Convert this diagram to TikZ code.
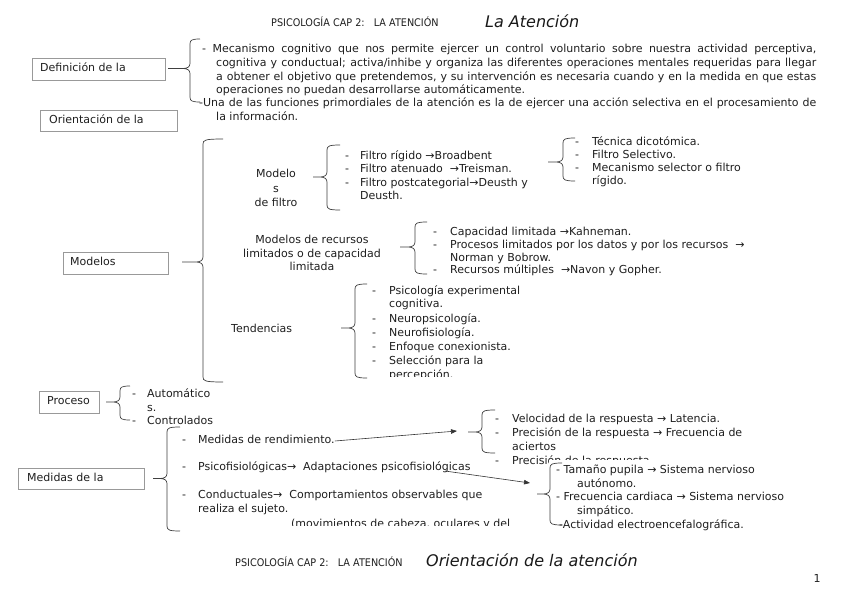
\documentclass[tikz,border=0pt]{standalone}
\usepackage{fontspec}
\setmainfont{DejaVu Sans}
\newfontfamily\hdrfont{DejaVu Sans}[FakeStretch=0.92]
\usetikzlibrary{arrows.meta}
% #1 x of vertical, #2 top y, #3 bottom y, #4 tip x, #5 tip y, #6 hook length
\newcommand\wbr[6]{%
  \draw[brc] (#1+#6,#2) .. controls (#1+2,#2) and (#1,#2+1) .. (#1,#2+5)
    -- (#1,#5-5) .. controls (#1,#5-1.5) and (#1-3,#5) .. (#1-7,#5) -- (#4,#5)
    (#1-7,#5) .. controls (#1-3,#5) and (#1,#5+1.5) .. (#1,#5+5)
    -- (#1,#3-5) .. controls (#1,#3-1) and (#1+2,#3) .. (#1+#6,#3);}
\begin{document}
\begin{tikzpicture}[x=1pt,y=-1pt,
  tx/.style={inner sep=0pt, anchor=west, font=\fontsize{11}{13}\selectfont, text=black!88, text height=8pt, text depth=2.5pt},
  txc/.style={tx, anchor=center},
  bx/.style={draw=black!40, line width=0.6pt, anchor=north west, inner sep=0pt},
  brc/.style={draw=black!75, line width=0.7pt},
  conn/.style={draw=black!80, line width=0.6pt, -{Triangle[length=6pt,width=4.5pt]}},
  hdr/.style={inner sep=0pt, anchor=west, font=\hdrfont\fontsize{10.5}{12}\selectfont, text=black!88},
  ttl/.style={inner sep=0pt, anchor=west, font=\itshape\fontsize{16}{18}\selectfont, text=black!90}]
\useasboundingbox[fill=white] (0,0) rectangle (848,599);

% header
\node[hdr] (hA) at (271,22) {PSICOLOGÍA CAP 2:\ \ \ LA ATENCIÓN};
\node[ttl] (hB) at (485,21) {La Atención};

% left boxes
\node[bx, minimum width=133pt, minimum height=22pt] (bdef) at (32,58) {};
\node[tx] (tdef) at (40,68.5) {Definición de la};
\node[bx, minimum width=137pt, minimum height=21pt] (bori) at (40,110) {};
\node[tx] (tori) at (49,121) {Orientación de la};
\node[bx, minimum width=105pt, minimum height=22pt] (bmod) at (63,252) {};
\node[tx] (tmod) at (70,263) {Modelos};
\node[bx, minimum width=60pt, minimum height=22pt] (bpro) at (39,391) {};
\node[tx] (tpro) at (47,402) {Proceso};
\node[bx, minimum width=126pt, minimum height=21pt] (bmed) at (18,468) {};
\node[tx] (tmed) at (27,478.5) {Medidas de la};

% definition paragraph
\wbr{190}{39}{102}{168}{68.5}{10}
\node[tx] (d1) at (202,50) {\makebox[614pt][s]{- Mecanismo cognitivo que nos permite ejercer un control voluntario sobre nuestra actividad perceptiva,}};
\node[tx] (d2) at (216,64) {\makebox[600pt][s]{cognitiva y conductual; activa/inhibe y organiza las diferentes operaciones mentales requeridas para llegar}};
\node[tx] (d3) at (216,77.5) {\makebox[600pt][s]{a obtener el objetivo que pretendemos, y su intervención es necesaria cuando y en la medida en que estas}};
\node[tx] (d4) at (216,91) {operaciones no puedan desarrollarse automáticamente.};
\node[tx] (d5) at (199,104) {\makebox[617pt][s]{-Una de las funciones primordiales de la atención es la de ejercer una acción selectiva en el procesamiento de}};
\node[tx] (d6) at (216,117.5) {la información.};

% Modelos
\wbr{203}{139}{382}{182}{262}{20}
\node[txc] (mf1) at (276,175) {Modelo};
\node[txc] (mf2) at (276,189.5) {s};
\node[txc] (mf3) at (276,204) {de filtro};
\wbr{327}{145}{210}{313}{177}{13}
\node[tx] (f1) at (345,157) {\makebox[15pt][l]{-}Filtro rígido →Broadbent};
\node[tx] (f2) at (345,170) {\makebox[15pt][l]{-}Filtro atenuado\ \ →Treisman.};
\node[tx] (f3) at (345,183.5) {\makebox[15pt][l]{-}Filtro postcategorial→Deusth y};
\node[tx] (f4) at (360,197) {Deusth.};
\wbr{563}{138}{181}{548}{162}{12}
\node[tx] (g1) at (575,143) {\makebox[17pt][l]{-}Técnica dicotómica.};
\node[tx] (g2) at (575,156) {\makebox[17pt][l]{-}Filtro Selectivo.};
\node[tx] (g3) at (575,169) {\makebox[17pt][l]{-}Mecanismo selector o filtro};
\node[tx] (g4) at (592,182) {rígido.};

\node[txc] (mr1) at (312,241) {Modelos de recursos};
\node[txc] (mr2) at (312,254.5) {limitados o de capacidad};
\node[txc] (mr3) at (312,268) {limitada};
\wbr{415}{222}{274}{400}{247}{12}
\node[tx] (r1) at (433,233) {\makebox[17pt][l]{-}Capacidad limitada →Kahneman.};
\node[tx] (r2) at (433,246) {\makebox[17pt][l]{-}Procesos limitados por los datos y por los recursos\ \ →};
\node[tx] (r3) at (450,258.5) {Norman y Bobrow.};
\node[tx] (r4) at (433,271) {\makebox[17pt][l]{-}Recursos múltiples\ \ →Navon y Gopher.};

\node[tx] (ten) at (231,329.5) {Tendencias};
\wbr{355}{284}{378}{341}{328}{12}
\node[tx] (e1) at (372,292) {\makebox[17pt][l]{-}Psicología experimental};
\node[tx] (e2) at (389,305) {cognitiva.};
\node[tx] (e3) at (372,319.5) {\makebox[17pt][l]{-}Neuropsicología.};
\node[tx] (e4) at (372,333.5) {\makebox[17pt][l]{-}Neurofisiología.};
\node[tx] (e5) at (372,348) {\makebox[17pt][l]{-}Enfoque conexionista.};
\node[tx] (e6) at (372,362) {\makebox[17pt][l]{-}Selección para la};
\begin{scope}
  \clip (380,368) rectangle (560,376.5);
  \node[tx] (e7) at (389,376) {percepción.};
\end{scope}

% Proceso
\wbr{120}{386}{420}{106}{402}{10}
\node[tx] (p1) at (132,395) {\makebox[15pt][l]{-}Automático};
\node[tx] (p2) at (147,408.5) {s.};
\node[tx] (p3) at (132,422) {\makebox[15pt][l]{-}Controlados};

% Medidas
\wbr{167}{427}{531}{153}{478.5}{13}
\node[tx] (m1) at (182,441) {\makebox[16pt][l]{-}Medidas de rendimiento.};
\node[tx] (m2) at (182,468) {\makebox[16pt][l]{-}Psicofisiológicas→\ \ Adaptaciones psicofisiológicas};
\node[tx] (m3) at (182,496) {\makebox[16pt][l]{-}Conductuales→\ \ Comportamientos observables que};
\node[tx] (m4) at (198,510) {realiza el sujeto.};
\begin{scope}
  \clip (280,515) rectangle (560,525.5);
  \node[tx] (m5) at (291,525) {(movimientos de cabeza, oculares y del};
\end{scope}

% Velocidad block
\wbr{482}{410}{453}{468}{432}{13}
\node[tx] (v1) at (495,420) {\makebox[17pt][l]{-}Velocidad de la respuesta → Latencia.};
\node[tx] (v2) at (495,433.5) {\makebox[17pt][l]{-}Precisión de la respuesta → Frecuencia de};
\node[tx] (v3) at (512,447.5) {aciertos};
\begin{scope}
  \clip (485,452) rectangle (548,470) (548,452) rectangle (720,459);
  \node[tx] (v4) at (495,462) {\makebox[17pt][l]{-}Precisión de la respuesta};
\end{scope}

% Fisiologicas block
\wbr{550}{463}{525}{537}{494}{12}
\node[tx] (s1) at (556,471) {- Tamaño pupila → Sistema nervioso};
\node[tx] (s2) at (577,484.5) {autónomo.};
\node[tx] (s3) at (556,498) {- Frecuencia cardiaca → Sistema nervioso};
\node[tx] (s4) at (577,511.5) {simpático.};
\node[tx] (s5) at (559,525.5) {-Actividad electroencefalográfica.};

% connectors
\coordinate (a1) at (457,431);
\draw[conn] (m1.east) -- (a1);
\coordinate (q2) at (445,471);
\coordinate (a2) at (530,483);
\draw[conn] (q2) -- (a2);

% footer
\node[hdr] (fA) at (235,562) {PSICOLOGÍA CAP 2:\ \ \ LA ATENCIÓN};
\node[ttl] (fB) at (426,560) {Orientación de la atención};
\node[txc] (pg) at (817,580) {1};
\end{tikzpicture}
\end{document}
